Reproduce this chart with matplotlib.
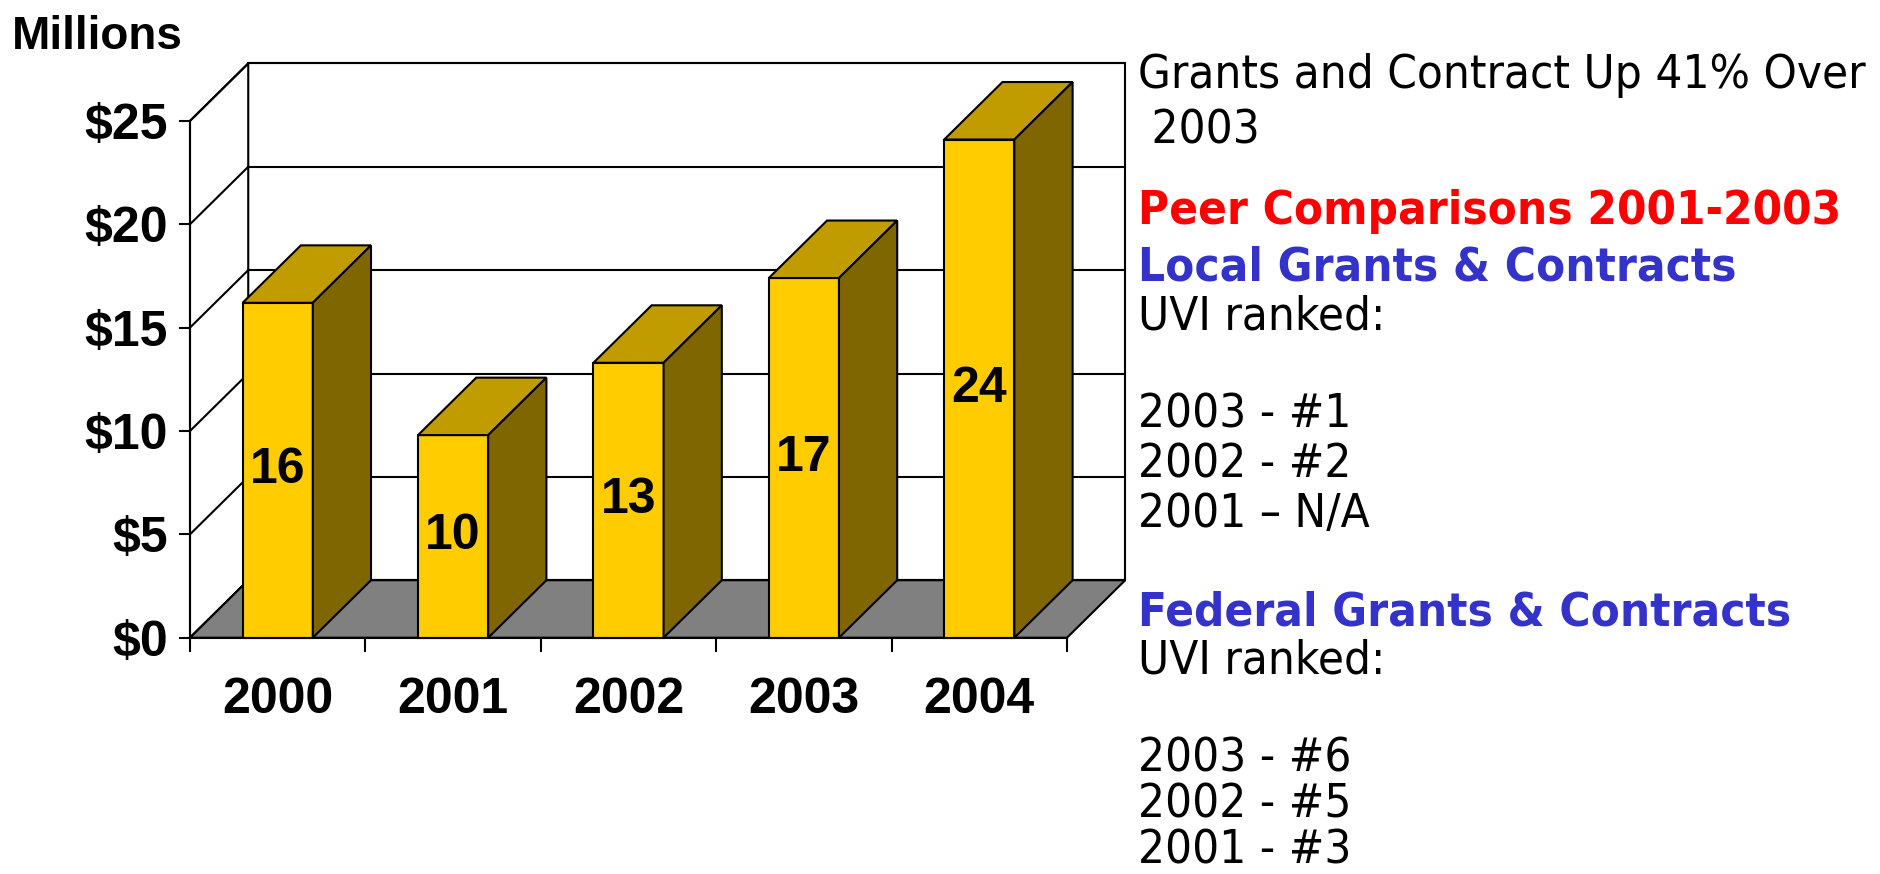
import matplotlib
matplotlib.use("Agg")
import matplotlib.pyplot as plt
from matplotlib import font_manager as fm
from matplotlib.patches import Polygon

# data
years = ["2000", "2001", "2002", "2003", "2004"]
grants = [16.2, 9.8, 13.3, 17.4, 24.1]          # $ millions
yticks = [0, 5, 10, 15, 20, 25]
ytick_labels = [r"\$0", r"\$5", r"\$10", r"\$15", r"\$20", r"\$25"]

notes = [
    ("Grants and Contract Up 41% Over", "black", "normal"),
    (" 2003", "black", "normal"),
    ("Peer Comparisons 2001-2003", "#FF0000", "bold"),
    ("Local Grants & Contracts", "#3333CC", "bold"),
    ("UVI ranked:", "black", "normal"),
    ("2003 - #1", "black", "normal"),
    ("2002 - #2", "black", "normal"),
    ("2001 \u2013 N/A", "black", "normal"),
    ("Federal Grants & Contracts", "#3333CC", "bold"),
    ("UVI ranked:", "black", "normal"),
    ("2003 - #6", "black", "normal"),
    ("2002 - #5", "black", "normal"),
    ("2001 - #3", "black", "normal"),
]
note_baselines = [88, 143, 224, 280, 329, 428, 478, 527, 625, 674, 771, 818, 864]  # px from top

# fonts
names = {f.name for f in fm.fontManager.ttflist}
has_narrow = "Liberation Sans Narrow" in names
has_cond = any(f.name == "DejaVu Sans" and str(f.stretch) == "condensed"
               for f in fm.fontManager.ttflist)
BOLD = dict(family="Liberation Sans", weight="bold", size=36)
if has_cond:
    NOTE = dict(family="DejaVu Sans", stretch="condensed", size=34)
else:
    NOTE = dict(family="DejaVu Sans", size=31)

FRONT, TOP, SIDE, FLOOR = "#FFCC00", "#C09C00", "#806600", "#808080"
LW = 1.5
W, H = 1880, 874
ncat = len(years)
ymax = 25
dx, dy = 0.332, 2.78       # depth offset, in data units
bw = 0.4

fig = plt.figure(figsize=(W / 100, H / 100), dpi=100)
ax = fig.add_axes([190 / W, (H - 637.7) / H, 877 / W, 516.8 / H])
ax.set_xlim(0, ncat)
ax.set_ylim(0, ymax)
ax.set_facecolor("none")
for s in ["top", "right"]:
    ax.spines[s].set_visible(False)
ax.spines["left"].set_linewidth(LW)
ax.spines["bottom"].set_linewidth(LW)
ax.spines["left"].set_zorder(6)
ax.spines["bottom"].set_zorder(6)

# walls and floor
back = Polygon([(dx, dy), (ncat + dx, dy), (ncat + dx, ymax + dy), (dx, ymax + dy)],
               closed=True, fc="white", ec="black", lw=LW, clip_on=False, zorder=1)
side = Polygon([(0, 0), (dx, dy), (dx, ymax + dy), (0, ymax)],
               closed=True, fc="white", ec="black", lw=LW, clip_on=False, zorder=1)
floor = Polygon([(0, 0), (ncat, 0), (ncat + dx, dy), (dx, dy)],
                closed=True, fc=FLOOR, ec="black", lw=LW, clip_on=False, zorder=3)
for p in (back, side, floor):
    ax.add_patch(p)
for t in yticks:
    ax.plot([dx, ncat + dx], [t + dy, t + dy], color="black", lw=LW, clip_on=False, zorder=2)
    ax.plot([0, dx], [t, t + dy], color="black", lw=LW, clip_on=False, zorder=2)

# bars
for i, v in enumerate(grants):
    x0, x1 = i + 0.5 - bw / 2, i + 0.5 + bw / 2
    front = Polygon([(x0, 0), (x1, 0), (x1, v), (x0, v)])
    top = Polygon([(x0, v), (x1, v), (x1 + dx, v + dy), (x0 + dx, v + dy)])
    sd = Polygon([(x1, 0), (x1 + dx, dy), (x1 + dx, v + dy), (x1, v)])
    for p, c in ((front, FRONT), (top, TOP), (sd, SIDE)):
        p.set_facecolor(c)
        p.set_edgecolor("black")
        p.set_linewidth(LW)
        p.set_clip_on(False)
        p.set_zorder(4)
        ax.add_patch(p)
    ax.text(i + 0.5, v / 2, f"{round(v)}", ha="center", va="center", zorder=5, **BOLD)

# axes ticks
ax.set_yticks(yticks)
ax.set_yticklabels(ytick_labels, **BOLD)
ax.tick_params(axis="y", direction="out", length=8, width=LW, pad=8)
ax.set_xticks(range(ncat + 1))
ax.set_xticklabels([])
ax.tick_params(axis="x", which="major", direction="out", length=10, width=LW)
ax.set_xticks([i + 0.5 for i in range(ncat)], minor=True)
ax.set_xticklabels(years, minor=True, **BOLD)
ax.tick_params(axis="x", which="minor", length=0, pad=28)

if has_narrow:
    fig.text(15 / W, 1 - 49 / H, "Millions", ha="left", va="baseline",
             family="Liberation Sans Narrow", weight="bold", size=38)
else:
    fig.text(12 / W, 1 - 49 / H, "Millions", ha="left", va="baseline",
             family="Liberation Sans", weight="bold", size=33)

# side notes
for (txt, col, wt), b in zip(notes, note_baselines):
    fig.text(1138 / W, 1 - b / H, txt, color=col, ha="left", va="baseline",
             weight=wt, **NOTE)

fig.savefig("out.png", dpi=100)
